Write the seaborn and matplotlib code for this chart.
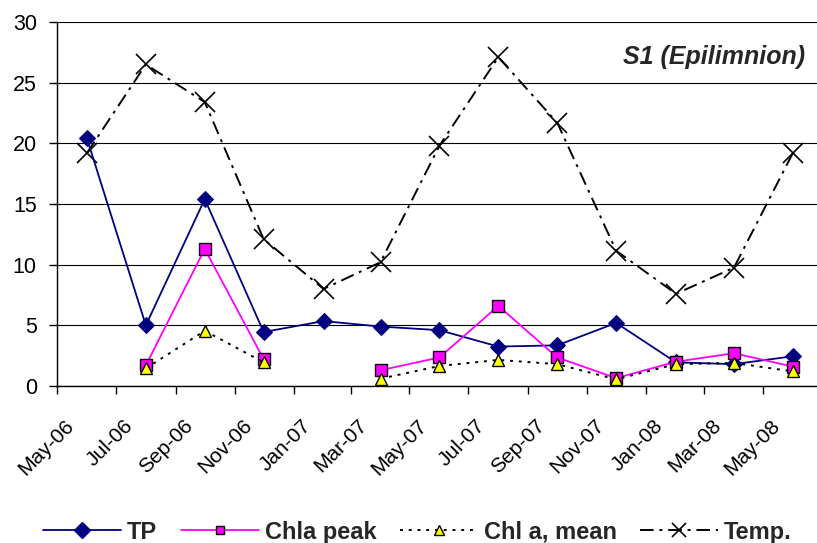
import matplotlib
matplotlib.use("Agg")
import matplotlib.pyplot as plt
import matplotlib.transforms as mtransforms
from matplotlib.lines import Line2D
import numpy as np
import pandas as pd
import seaborn as sns

# Sampling months (first of month), station S1, epilimnion
dates = ["2006-06-01", "2006-08-01", "2006-10-01", "2006-12-01", "2007-02-01",
         "2007-04-01", "2007-06-01", "2007-08-01", "2007-10-01", "2007-12-01",
         "2008-02-01", "2008-04-01", "2008-06-01"]
tp = [20.4, 5.0, 15.4, 4.45, 5.35, 4.9, 4.6, 3.25, 3.35, 5.2, 1.95, 1.8, 2.45]
chla_peak = [np.nan, 1.7, 11.3, 2.2, np.nan, 1.3, 2.35, 6.6, 2.35, 0.65, 2.0, 2.7, 1.6]
chla_mean = [np.nan, 1.45, 4.55, 1.95, np.nan, 0.6, 1.65, 2.15, 1.8, 0.55, 1.8, 1.9, 1.2]
temp = [19.2, 26.5, 23.4, 12.1, 8.0, 10.2, 19.8, 27.1, 21.7, 11.15, 7.6, 9.75, 19.2]
tick_labels = ["May-06", "Jul-06", "Sep-06", "Nov-06", "Jan-07", "Mar-07", "May-07",
               "Jul-07", "Sep-07", "Nov-07", "Jan-08", "Mar-08", "May-08"]
y_ticks = [0, 5, 10, 15, 20, 25, 30]

sns.set_theme(style="white")
plt.rcParams["font.family"] = ["Liberation Sans", "DejaVu Sans"]

fig = plt.figure(figsize=(8.17, 5.43), dpi=100)
ax = fig.add_axes([57 / 817, 1 - 386 / 543, 760 / 817, (386 - 22) / 543])

x = pd.to_datetime(dates)


def segments(values):
    """Split a series into contiguous non-missing runs (gaps stay open)."""
    vals = np.asarray(values, dtype=float)
    seg = np.cumsum(np.isnan(vals))
    df = pd.DataFrame({"date": x, "value": vals, "seg": seg})
    return df.dropna()


tp_style = dict(color="#000080", linewidth=1.3, linestyle="-", marker="D",
                markerfacecolor="#000080", markeredgecolor="#000080")
peak_style = dict(color="#FF00FF", linewidth=1.3, linestyle="-", marker="s",
                  markerfacecolor="#FF00FF", markeredgecolor="black",
                  markeredgewidth=1.0)
mean_style = dict(color="black", linewidth=1.4, linestyle=(0, (1.5, 3.0)),
                  marker="^", markerfacecolor="#FFFF00", markeredgecolor="black",
                  markeredgewidth=1.0)
temp_style = dict(color="black", linewidth=1.4, linestyle=(0, (7, 3, 1.5, 3)),
                  marker="x", markeredgecolor="black", markeredgewidth=1.2)

series = [
    ("TP", tp, tp_style, 8, 8, 3),
    ("Chla peak", chla_peak, peak_style, 8, 6, 3),
    ("Chl a, mean", chla_mean, mean_style, 9, 7, 3),
    ("Temp.", temp, temp_style, 14, 10, 2),
]

handles = []
for name, vals, style, ms, legend_ms, z in series:
    df = segments(vals)
    sns.lineplot(data=df, x="date", y="value", units="seg", estimator=None,
                 ax=ax, legend=False, zorder=z, markersize=ms, **style)
    handles.append(Line2D([], [], label=name, markersize=legend_ms, **style))

# Axes limits and ticks
ax.set_ylim(0, 30)
ax.set_yticks(y_ticks)
ax.set_yticklabels([str(v) for v in y_ticks], fontsize=15.5)
ax.set_xlim(pd.Timestamp("2006-05-01"), pd.Timestamp("2008-06-26"))
tick_dates = pd.date_range("2006-05-01", periods=13, freq="2MS")
ax.set_xticks(tick_dates)
ax.set_xticklabels(tick_labels, rotation=45, ha="right", va="center",
                   rotation_mode="anchor", fontsize=15)
ax.set_xlabel("")
ax.set_ylabel("")

ax.yaxis.grid(True, color="black", linewidth=0.8)
ax.xaxis.grid(False)
for side in ["top", "right"]:
    ax.spines[side].set_visible(False)
for side in ["left", "bottom"]:
    ax.spines[side].set_color("black")
    ax.spines[side].set_linewidth(1.0)
ax.tick_params(axis="both", which="major", direction="out", length=6, width=1,
               color="black", bottom=True, left=True, labelcolor="black")
ax.tick_params(axis="y", pad=8.5)
ax.tick_params(axis="x", pad=4)
ax.set_facecolor("white")

# Shift the slanted date labels down and to the right of their ticks
shift = mtransforms.ScaledTranslation(0.14, -0.225, fig.dpi_scale_trans)
for lab in ax.get_xticklabels():
    lab.set_transform(lab.get_transform() + shift)

ax.text(0.985, 0.905, "S1 (Epilimnion)", transform=ax.transAxes, ha="right",
        va="center", fontsize=18, fontweight="bold", fontstyle="italic")

fig.legend(handles=handles, loc="center", bbox_to_anchor=(0.511, 0.02),
           ncol=4, frameon=False, handlelength=3.3, columnspacing=1.0,
           handletextpad=0.25,
           prop={"family": ["Liberation Sans", "DejaVu Sans"],
                 "weight": "bold", "size": 17})

fig.savefig("out.png", dpi=100, facecolor="white")
